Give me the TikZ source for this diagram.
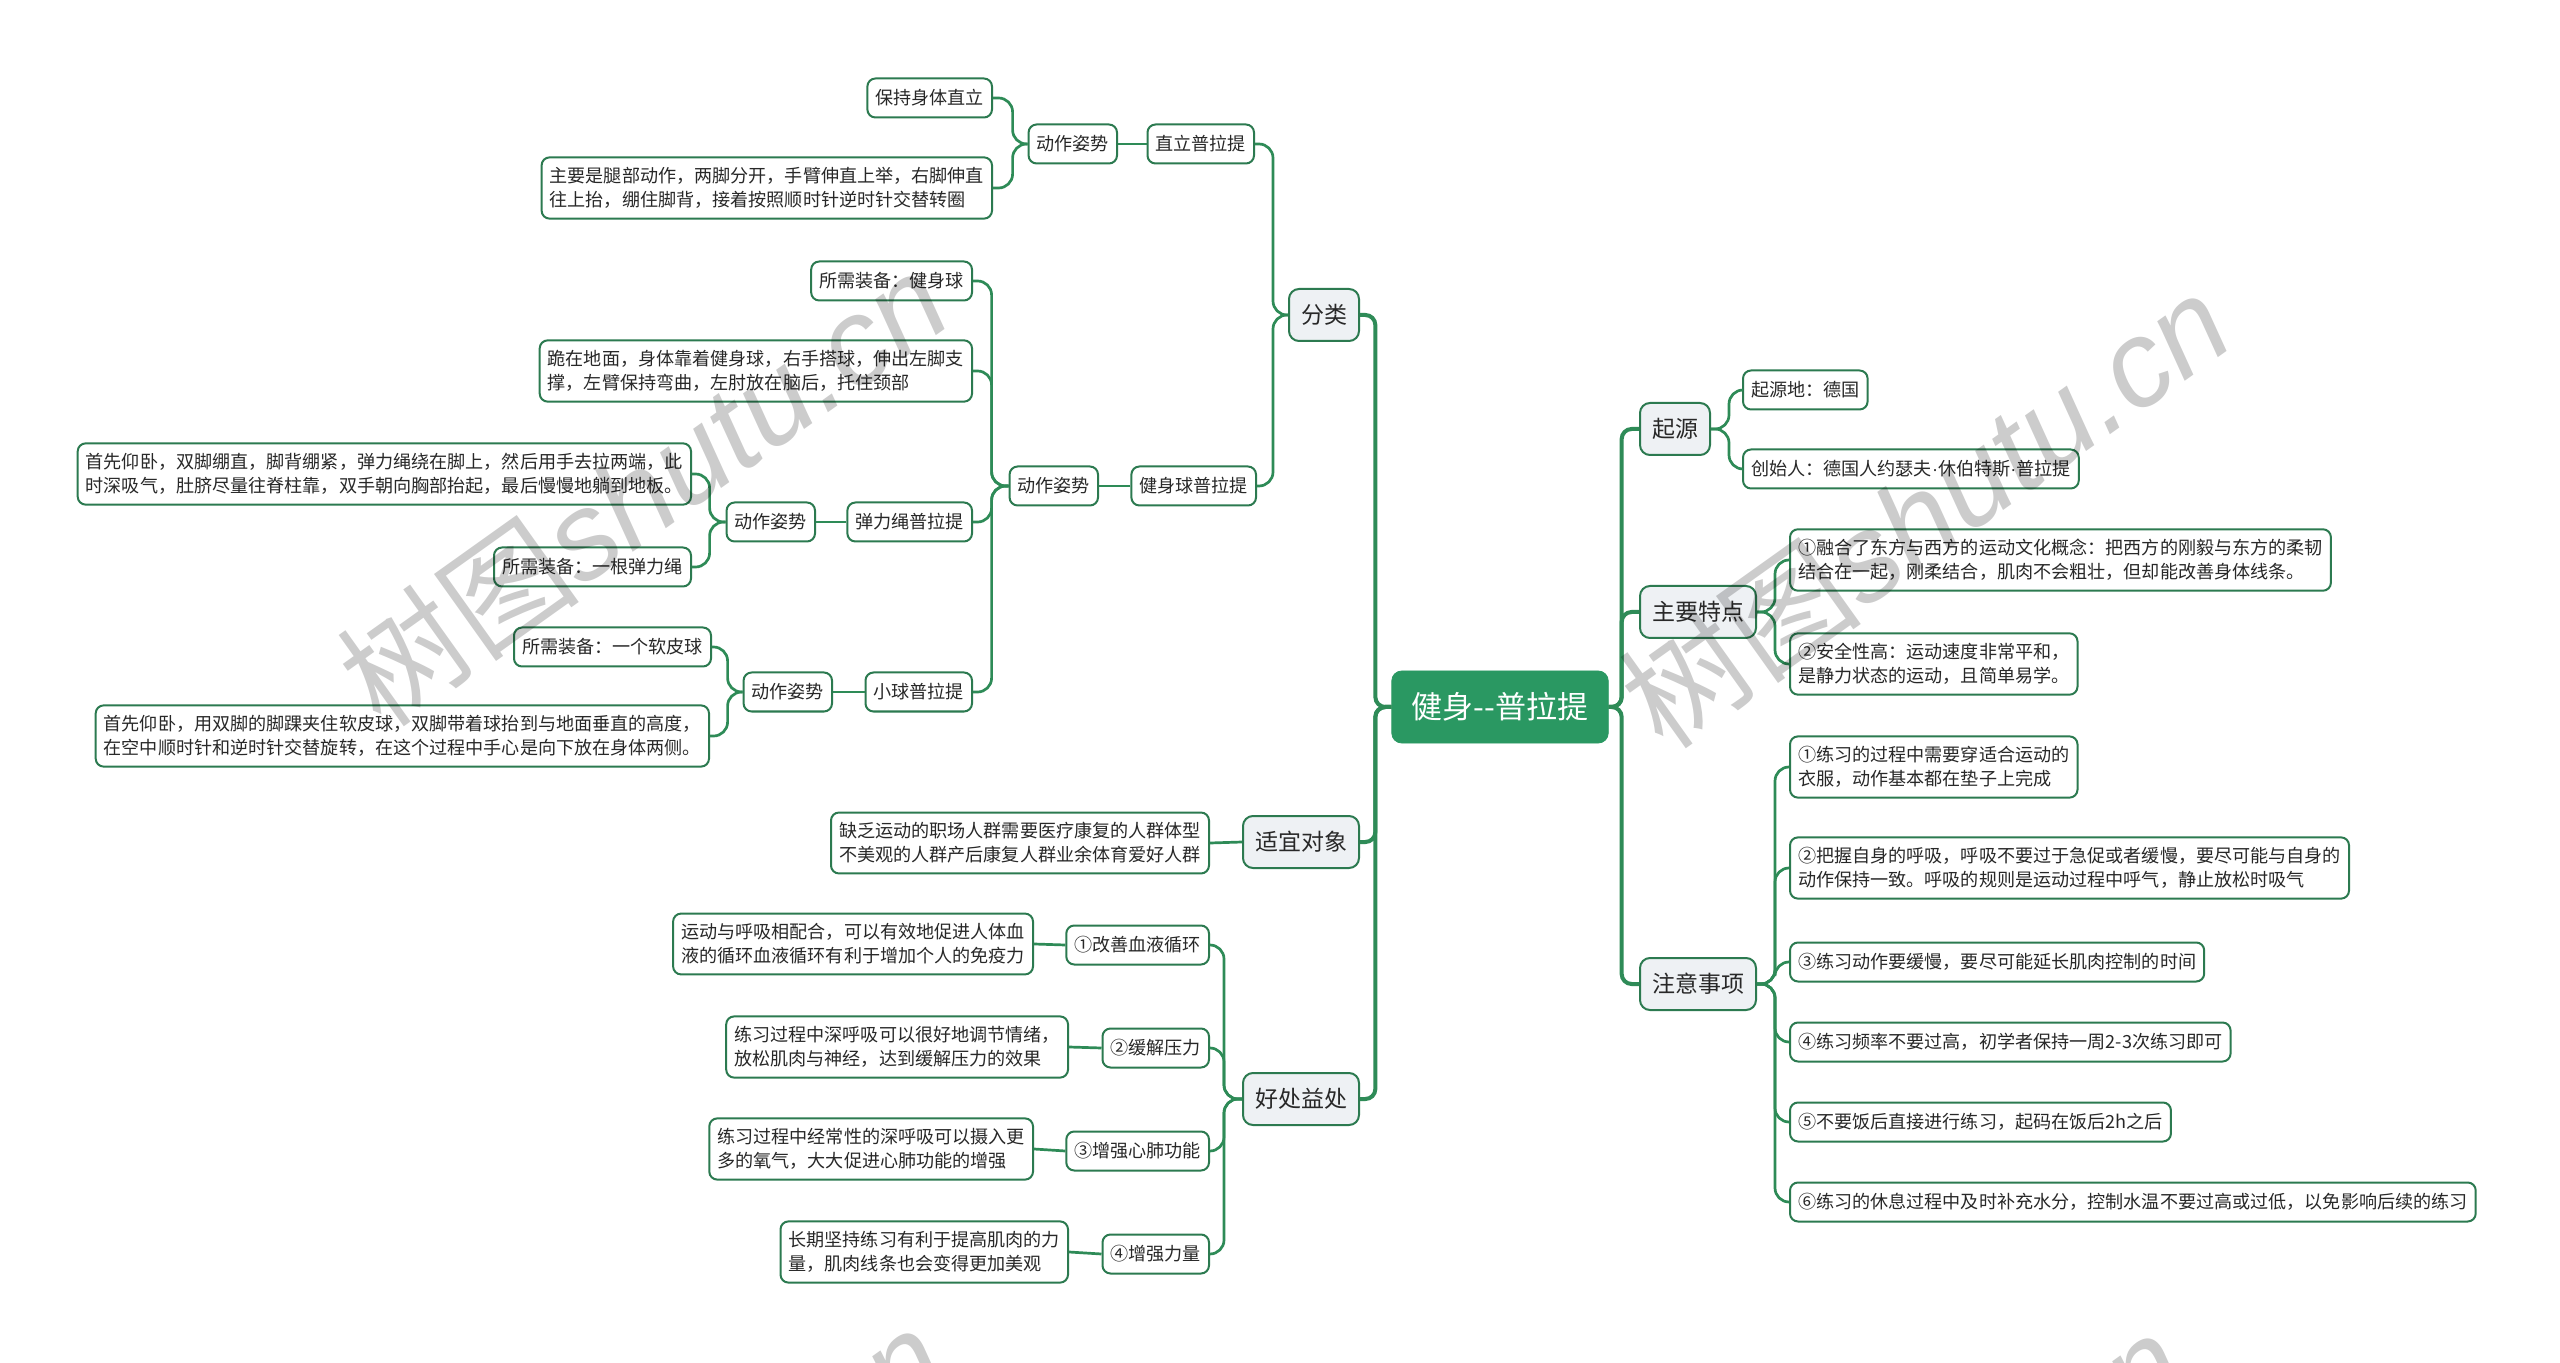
\documentclass[tikz,border=0pt]{standalone}
\usepackage{fontspec}
\setmainfont{Noto Sans CJK SC}
\newfontfamily\wmlat{Liberation Sans}
\definecolor{linec}{RGB}{46,139,87}
\definecolor{nodeline}{RGB}{44,122,80}
\definecolor{rootfill}{RGB}{42,152,98}
\definecolor{mainfill}{RGB}{238,241,244}
\definecolor{txt}{RGB}{40,40,40}
\tikzset{
  base/.style={draw=nodeline, line width=1pt, rounded corners=4pt, fill=white, text=txt,
    font=\fontsize{9.05}{12}\selectfont, inner xsep=4pt, inner ysep=5pt, minimum height=19.5pt, align=left},
  leafL/.style={base, anchor=east},
  leafR/.style={base, anchor=west},
  mainbox/.style={draw=nodeline, line width=1pt, fill=mainfill, rounded corners=5pt, text=txt,
    font=\fontsize{11.5}{14}\selectfont, inner xsep=6pt, minimum height=26pt},
  rootbox/.style={fill=rootfill, draw=rootfill, rounded corners=5pt, text=white,
    font=\fontsize{15.5}{18}\selectfont, inner xsep=10pt, minimum height=36pt, minimum width=107pt},
  trunk/.style={draw=linec, line width=2pt, rounded corners=5pt},
  conn/.style={draw=linec, line width=1.35pt, rounded corners=7pt},
  wm/.style={text=black, opacity=0.2, font=\fontsize{61}{64}\selectfont, rotate=35.5, inner sep=0pt}
}
\begin{document}
\begin{tikzpicture}[x=0.5pt,y=-0.5pt]
\useasboundingbox[fill=white] (0,0) rectangle (2560,1363);

% root
\node[rootbox] (root) at (1500,707) {健身-\kern0pt-普拉提};

% main branches
\node[mainbox, anchor=east] (fl) at (1360,315) {分类};
\node[mainbox, anchor=east] (sy) at (1360,842) {适宜对象};
\node[mainbox, anchor=east] (hc) at (1360,1099) {好处益处};
\node[mainbox, anchor=west] (qy) at (1639,429) {起源};
\node[mainbox, anchor=west] (td) at (1639,612) {主要特点};
\node[mainbox, anchor=west] (zy) at (1639,984) {注意事项};

% 分类 subtree
\node[leafL] (zl) at (1255,144) {直立普拉提};
\node[leafL] (dz1) at (1118,144) {动作姿势};
\node[leafL] (l1a) at (993,98) {保持身体直立};
\node[leafL] (l1b) at (993,188) {主要是腿部动作，两脚分开，手臂伸直上举，右脚伸直\\往上抬，绷住脚背，接着按照顺时针逆时针交替转圈};

\node[leafL] (jsq) at (1257,486) {健身球普拉提};
\node[leafL] (dz2) at (1099,486) {动作姿势};
\node[leafL] (l2a) at (973,281) {所需装备：健身球};
\node[leafL] (l2b) at (973,371) {跪在地面，身体靠着健身球，右手搭球，伸出左脚支\\撑，左臂保持弯曲，左肘放在脑后，托住颈部};
\node[leafL] (tls) at (973,522) {弹力绳普拉提};
\node[leafL] (dz3) at (816,522) {动作姿势};
\node[leafL] (l3a) at (692,474) {首先仰卧，双脚绷直，脚背绷紧，弹力绳绕在脚上，然后用手去拉两端，此\\时深吸气，肚脐尽量往脊柱靠，双手朝向胸部抬起，最后慢慢地躺到地板。};
\node[leafL] (l3b) at (692,567) {所需装备：一根弹力绳};
\node[leafL] (xq) at (973,692) {小球普拉提};
\node[leafL] (dz4) at (833,692) {动作姿势};
\node[leafL] (l4a) at (712,647) {所需装备：一个软皮球};
\node[leafL] (l4b) at (710,736) {首先仰卧，用双脚的脚踝夹住软皮球，双脚带着球抬到与地面垂直的高度，\\在空中顺时针和逆时针交替旋转，在这个过程中手心是向下放在身体两侧。};

% 适宜对象
\node[leafL] (sy1) at (1210,843) {缺乏运动的职场人群需要医疗康复的人群体型\\不美观的人群产后康复人群业余体育爱好人群};

% 好处益处
\node[leafL] (h1) at (1210,945) {①改善血液循环};
\node[leafL] (h1t) at (1034,944) {运动与呼吸相配合，可以有效地促进人体血\\液的循环血液循环有利于增加个人的免疫力};
\node[leafL] (h2) at (1210,1048) {②缓解压力};
\node[leafL] (h2t) at (1069,1047) {练习过程中深呼吸可以很好地调节情绪，\\放松肌肉与神经，达到缓解压力的效果};
\node[leafL] (h3) at (1210,1151) {③增强心肺功能};
\node[leafL] (h3t) at (1034,1149) {练习过程中经常性的深呼吸可以摄入更\\多的氧气，大大促进心肺功能的增强};
\node[leafL] (h4) at (1210,1254) {④增强力量};
\node[leafL] (h4t) at (1069,1252) {长期坚持练习有利于提高肌肉的力\\量，肌肉线条也会变得更加美观};

% 起源
\node[leafR] (qy1) at (1742,390) {起源地：德国};
\node[leafR] (qy2) at (1742,469) {创始人：德国人约瑟夫{\wmlat ·}休伯特斯{\wmlat ·}普拉提};

% 主要特点
\node[leafR] (td1) at (1789,560) {①融合了东方与西方的运动文化概念：把西方的刚毅与东方的柔韧\\结合在一起，刚柔结合，肌肉不会粗壮，但却能改善身体线条。};
\node[leafR] (td2) at (1789,664) {②安全性高：运动速度非常平和，\\是静力状态的运动，且简单易学。};

% 注意事项
\node[leafR] (zy1) at (1789,767) {①练习的过程中需要穿适合运动的\\衣服，动作基本都在垫子上完成};
\node[leafR] (zy2) at (1789,868) {②把握自身的呼吸，呼吸不要过于急促或者缓慢，要尽可能与自身的\\动作保持一致。呼吸的规则是运动过程中呼气，静止放松时吸气};
\node[leafR] (zy3) at (1789,962) {③练习动作要缓慢，要尽可能延长肌肉控制的时间};
\node[leafR] (zy4) at (1789,1042) {④练习频率不要过高，初学者保持一周2-3次练习即可};
\node[leafR] (zy5) at (1789,1122) {⑤不要饭后直接进行练习，起码在饭后2h之后};
\node[leafR] (zy6) at (1789,1202) {⑥练习的休息过程中及时补充水分，控制水温不要过高或过低，以免影响后续的练习};

% connectors: root
\draw[trunk] (root.west) -- ++(-16,0) |- (fl.east);
\draw[trunk] (root.west) -- ++(-16,0) |- (sy.east);
\draw[trunk] (root.west) -- ++(-16,0) |- (hc.east);
\draw[trunk] (root.east) -- ++(13,0) |- (qy.west);
\draw[trunk] (root.east) -- ++(13,0) |- (td.west);
\draw[trunk] (root.east) -- ++(13,0) |- (zy.west);

% 分类
\draw[conn] (fl.west) -- ++(-15,0) |- (zl.east);
\draw[conn] (fl.west) -- ++(-15,0) |- (jsq.east);
\draw[conn] (zl.west) -- (dz1.east);
\draw[conn] (dz1.west) -- ++(-15,0) |- (l1a.east);
\draw[conn] (dz1.west) -- ++(-15,0) |- (l1b.east);
\draw[conn] (jsq.west) -- (dz2.east);
\draw[conn] (dz2.west) -- ++(-17,0) |- (l2a.east);
\draw[conn] (dz2.west) -- ++(-17,0) |- (l2b.east);
\draw[conn] (dz2.west) -- ++(-17,0) |- (tls.east);
\draw[conn] (dz2.west) -- ++(-17,0) |- (xq.east);
\draw[conn] (tls.west) -- (dz3.east);
\draw[conn] (dz3.west) -- ++(-16,0) |- (l3a.east);
\draw[conn] (dz3.west) -- ++(-16,0) |- (l3b.east);
\draw[conn] (xq.west) -- (dz4.east);
\draw[conn] (dz4.west) -- ++(-15,0) |- (l4a.east);
\draw[conn] (dz4.west) -- ++(-15,0) |- (l4b.east);

% 适宜对象
\draw[conn] (sy.west) -- (sy1.east);

% 好处益处
\draw[conn] (hc.west) -- ++(-18,0) |- (h1.east);
\draw[conn] (hc.west) -- ++(-18,0) |- (h2.east);
\draw[conn] (hc.west) -- ++(-18,0) |- (h3.east);
\draw[conn] (hc.west) -- ++(-18,0) |- (h4.east);
\draw[conn] (h1.west) -- (h1t.east);
\draw[conn] (h2.west) -- (h2t.east);
\draw[conn] (h3.west) -- (h3t.east);
\draw[conn] (h4.west) -- (h4t.east);

% right side
\draw[conn] (qy.east) -- ++(18,0) |- (qy1.west);
\draw[conn] (qy.east) -- ++(18,0) |- (qy2.west);
\draw[conn] (td.east) -- ++(18,0) |- (td1.west);
\draw[conn] (td.east) -- ++(18,0) |- (td2.west);
\foreach \k in {1,...,6} {
  \draw[conn] (zy.east) -- ++(18,0) |- (zy\k.west);
}

% watermarks
\begin{scope}
\clip (0,0) rectangle (2560,1363);
\node[wm] (wm1) at (643,488) {树图{\wmlat\itshape shutu.cn}};
\node[wm] (wm2) at (1925,510) {树图{\wmlat\itshape shutu.cn}};
\node[wm] (wm3) at (640,1545) {树图{\wmlat\itshape shutu.cn}};
\node[wm] (wm4) at (1880,1550) {树图{\wmlat\itshape shutu.cn}};
\end{scope}
\end{tikzpicture}
\end{document}
